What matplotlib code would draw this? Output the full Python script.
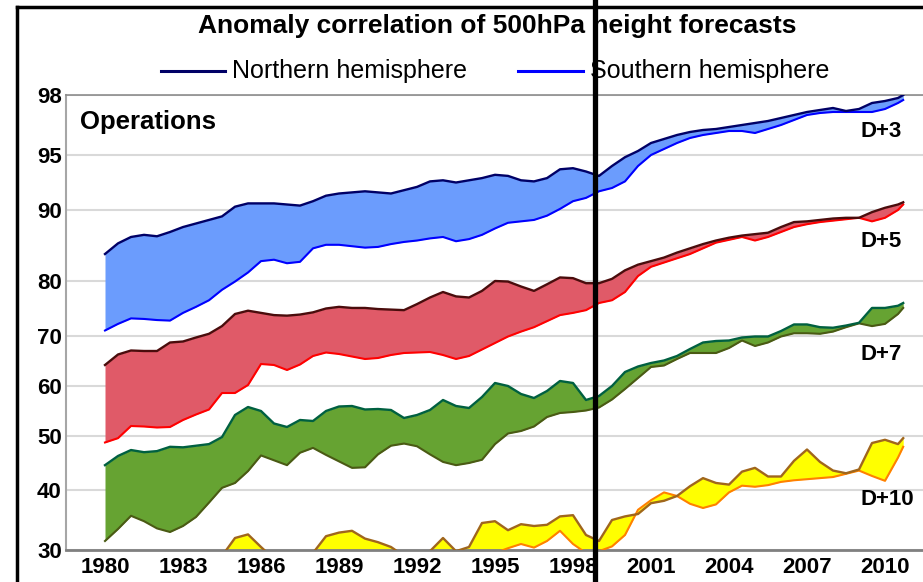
import numpy as np
import matplotlib
matplotlib.use("Agg")
import matplotlib.pyplot as plt
from matplotlib.lines import Line2D

plt.rcParams['font.family'] = ['Liberation Sans', 'DejaVu Sans']

# half-year sampling, last point mid 2010
years = np.append(np.arange(1980, 2011, 0.5), 2010.7)

nh_d3 = [83.8, 85.3, 86.2, 86.5, 86.3, 86.9, 87.6, 88.1, 88.6, 89.1,
         90.3, 90.6, 90.6, 90.6, 90.5, 90.4, 90.8, 91.3, 91.5, 91.6,
         91.7, 91.6, 91.5, 91.8, 92.1, 92.6, 92.7, 92.5, 92.7, 92.9,
         93.2, 93.1, 92.7, 92.6, 92.9, 93.7, 93.8, 93.5, 93.1, 94.0,
         94.8, 95.2, 95.6, 95.8, 96.0, 96.15, 96.25, 96.3, 96.4, 96.5,
         96.6, 96.7, 96.85, 97.0, 97.15, 97.25, 97.35, 97.2, 97.3, 97.6,
         97.7, 97.85, 98.0]
sh_d3 = [71.0, 72.2, 73.2, 73.1, 72.9, 72.8, 74.2, 75.3, 76.5, 78.4,
         79.9, 81.2, 82.8, 83.0, 82.5, 82.7, 84.6, 85.1, 85.1, 84.9,
         84.7, 84.8, 85.2, 85.5, 85.7, 86.0, 86.2, 85.6, 85.9, 86.5,
         87.4, 88.2, 88.4, 88.6, 89.2, 90.1, 90.8, 91.1, 91.7, 92.0,
         92.6, 94.0, 95.0, 95.3, 95.6, 95.85, 96.0, 96.1, 96.2, 96.2,
         96.1, 96.3, 96.5, 96.75, 97.0, 97.1, 97.15, 97.15, 97.15, 97.15,
         97.3, 97.6, 97.75]
nh_d5 = [64.2, 66.3, 67.1, 67.0, 67.0, 68.7, 68.9, 69.7, 70.4, 71.8,
         74.0, 74.6, 74.2, 73.8, 73.7, 73.9, 74.3, 75.0, 75.3, 75.1,
         75.1, 74.9, 74.8, 74.7, 75.8, 77.0, 78.0, 77.2, 77.0, 78.2,
         80.0, 79.9, 79.0, 78.2, 79.4, 80.5, 80.4, 79.6, 79.6, 80.3,
         81.5, 82.3, 82.8, 83.3, 84.0, 84.6, 85.2, 85.7, 86.1, 86.4,
         86.6, 86.8, 87.6, 88.3, 88.4, 88.6, 88.8, 88.9, 88.9, 89.7,
         90.2, 90.5, 90.7]
sh_d5 = [48.8, 49.6, 52.0, 51.9, 51.7, 51.8, 53.2, 54.3, 55.3, 58.6,
         58.6, 60.2, 64.4, 64.2, 63.2, 64.3, 66.0, 66.7, 66.4, 65.9,
         65.4, 65.6, 66.2, 66.6, 66.7, 66.8, 66.2, 65.4, 66.0, 67.3,
         68.6, 69.9, 70.8, 71.6, 72.7, 73.8, 74.2, 74.7, 76.0, 76.5,
         78.0, 80.7, 82.0, 82.6, 83.2, 83.8, 84.6, 85.4, 85.8, 86.2,
         85.7, 86.2, 86.9, 87.6, 88.0, 88.3, 88.5, 88.7, 88.9, 88.4,
         88.9, 90.0, 90.5]
nh_d7 = [44.6, 46.3, 47.4, 47.0, 47.2, 48.0, 47.9, 48.2, 48.5, 49.8,
         54.2, 55.8, 55.0, 52.5, 51.8, 53.2, 53.0, 55.0, 55.9, 56.0,
         55.3, 55.4, 55.2, 53.6, 54.2, 55.2, 57.2, 56.0, 55.6, 57.8,
         60.6, 60.0, 58.4, 57.6, 59.0, 61.0, 60.6, 57.2, 58.0, 60.0,
         62.8, 63.9, 64.6, 65.1, 66.0, 67.4, 68.7, 69.0, 69.1, 69.7,
         69.9, 69.9, 70.9, 72.1, 72.1, 71.6, 71.5, 71.9, 72.4, 75.1,
         75.1, 75.5, 76.0]
sh_d7 = [31.5, 33.5, 35.7, 34.8, 33.6, 33.0, 34.0, 35.5, 37.9, 40.4,
         41.3, 43.5, 46.4, 45.5, 44.6, 46.9, 47.8, 46.5, 45.3, 44.1,
         44.2, 46.6, 48.2, 48.6, 48.1, 46.6, 45.2, 44.6, 45.0, 45.6,
         48.5, 50.5, 51.0, 51.9, 53.8, 54.6, 54.8, 55.1, 55.7, 57.3,
         59.4, 61.6, 63.8, 64.1, 65.4, 66.6, 66.6, 66.6, 67.6, 69.1,
         68.0, 68.7, 69.9, 70.5, 70.5, 70.4, 70.8, 71.6, 72.3, 71.8,
         72.2, 74.0, 75.1]
nh_d10 = [27.0, 27.5, 27.0, 27.5, 28.0, 28.0, 28.5, 29.0, 29.0, 29.0,
          32.0, 32.6, 30.5, 28.5, 28.8, 29.0, 29.5, 32.3, 32.9, 33.2,
          31.9, 31.3, 30.5, 29.0, 29.0, 29.8, 32.0, 29.8, 30.5, 34.5,
          34.8, 33.3, 34.3, 34.0, 34.2, 35.6, 35.8, 32.5, 31.5, 35.0,
          35.6, 36.0, 37.8, 38.2, 39.0, 40.7, 42.2, 41.3, 41.0, 43.4,
          44.1, 42.5, 42.5, 45.4, 47.5, 45.2, 43.6, 43.1, 43.8, 48.7,
          49.3, 48.5, 49.6]
sh_d10 = [26.5, 27.0, 26.5, 27.0, 27.5, 27.0, 27.5, 28.0, 28.0, 28.0,
          28.5, 28.5, 28.0, 27.5, 27.5, 28.0, 28.0, 28.5, 28.5, 28.5,
          28.0, 28.0, 28.0, 27.5, 27.5, 28.0, 28.5, 28.5, 29.0, 29.5,
          29.5, 30.3, 31.0, 30.4, 31.5, 33.2, 31.0, 29.5, 29.8, 30.6,
          32.5, 36.7, 38.3, 39.6, 39.0, 37.7, 37.0, 37.6, 39.6, 40.8,
          40.6, 40.9, 41.5, 41.8, 42.0, 42.2, 42.4, 43.0, 43.6, 42.6,
          41.7, 46.0, 48.0]

y_ticks = [30, 40, 50, 60, 70, 80, 90, 95, 98]
x_ticks = [1980, 1983, 1986, 1989, 1992, 1995, 1998, 2001, 2004, 2007, 2010]
labels = ['D+3', 'D+5', 'D+7', 'D+10']

# stretched axis: tick values -> plotted position (piecewise linear)
knot_v = np.array([0, 30, 40, 50, 60, 70, 80, 90, 95, 98, 100])
knot_p = np.array([-180, 0, 60, 114, 164, 214, 269, 340, 395, 455, 495], dtype=float)


def fwd(v):
    return np.interp(v, knot_v, knot_p)


def inv(p):
    return np.interp(p, knot_p, knot_v)


bands = [
    (nh_d3, sh_d3, '#000066', '#0000ff', '#6b9cfd'),
    (nh_d5, sh_d5, '#4a0c0c', '#ff0000', '#e05a68'),
    (nh_d7, sh_d7, '#006040', '#4a5a14', '#66a332'),
    (nh_d10, sh_d10, '#a0661c', '#ff8000', '#ffff00'),
]

W, H = 923, 582
fig = plt.figure(figsize=(W / 100, H / 100), dpi=100)
ax = fig.add_axes([66 / W, 32 / H, (935 - 66) / W, 455 / H])
ax.set_yscale('function', functions=(fwd, inv))

for nh, sh, c_nh, c_sh, c_fill in bands:
    ax.fill_between(years, nh, sh, color=c_fill, lw=0, interpolate=True, zorder=2)
    ax.plot(years, sh, color=c_sh, lw=1.5, zorder=3)
    ax.plot(years, nh, color=c_nh, lw=1.7, zorder=4)

ax.set_xlim(1980 - 39 / 26, 1980 + (935 - 105) / 26)
ax.set_ylim(30, 98)
ax.set_yticks(y_ticks)
ax.set_yticklabels([str(t) for t in y_ticks])
ax.set_xticks(x_ticks)
ax.set_xticklabels([str(t) for t in x_ticks])
ax.tick_params(length=0, labelsize=16)
ax.tick_params(axis='y', pad=3)
ax.tick_params(axis='x', pad=5)
for lab in ax.get_xticklabels() + ax.get_yticklabels():
    lab.set_fontweight('bold')
ax.grid(axis='y', color='#d9d9d9', lw=1.5, zorder=0)
ax.set_axisbelow(True)
ax.spines['right'].set_visible(False)
ax.spines['left'].set_color('#a6a6a6')
ax.spines['left'].set_linewidth(1.5)
ax.spines['top'].set_color('#8c8c8c')
ax.spines['top'].set_linewidth(1.2)
ax.spines['bottom'].set_color('#808080')
ax.spines['bottom'].set_linewidth(2)

# band labels
for lab, yb in zip(labels, [137, 247, 360, 505]):
    fig.text(861 / W, 1 - yb / H, lab, ha='left', va='baseline',
             fontsize=16, fontweight='bold')
fig.text(80 / W, 1 - 129 / H, 'Operations', ha='left', va='baseline',
         fontsize=18.5, fontweight='bold')

# title and legend
fig.text(497 / W, 1 - 26 / H, 'Anomaly correlation of 500hPa height forecasts',
         ha='center', va='center', fontsize=19, fontweight='bold')
fig.add_artist(Line2D([161 / W, 225 / W], [1 - 71 / H] * 2, color='#000066', lw=2.2))
fig.text(232 / W, 1 - 71 / H, 'Northern hemisphere', ha='left', va='center', fontsize=18)
fig.add_artist(Line2D([518 / W, 583 / W], [1 - 71 / H] * 2, color='#0000ff', lw=2.2))
fig.text(590 / W, 1 - 71 / H, 'Southern hemisphere', ha='left', va='center', fontsize=18)

# frame and the vertical marker line
fig.add_artist(Line2D([17 / W, 17 / W], [0, 1 - 7 / H], color='black', lw=2.5))
fig.add_artist(Line2D([17 / W, 1], [1 - 7 / H] * 2, color='black', lw=2.5))
fig.add_artist(Line2D([594.5 / W] * 2, [0, 1], color='black', lw=3.8))

fig.savefig('out.png', dpi=100)
